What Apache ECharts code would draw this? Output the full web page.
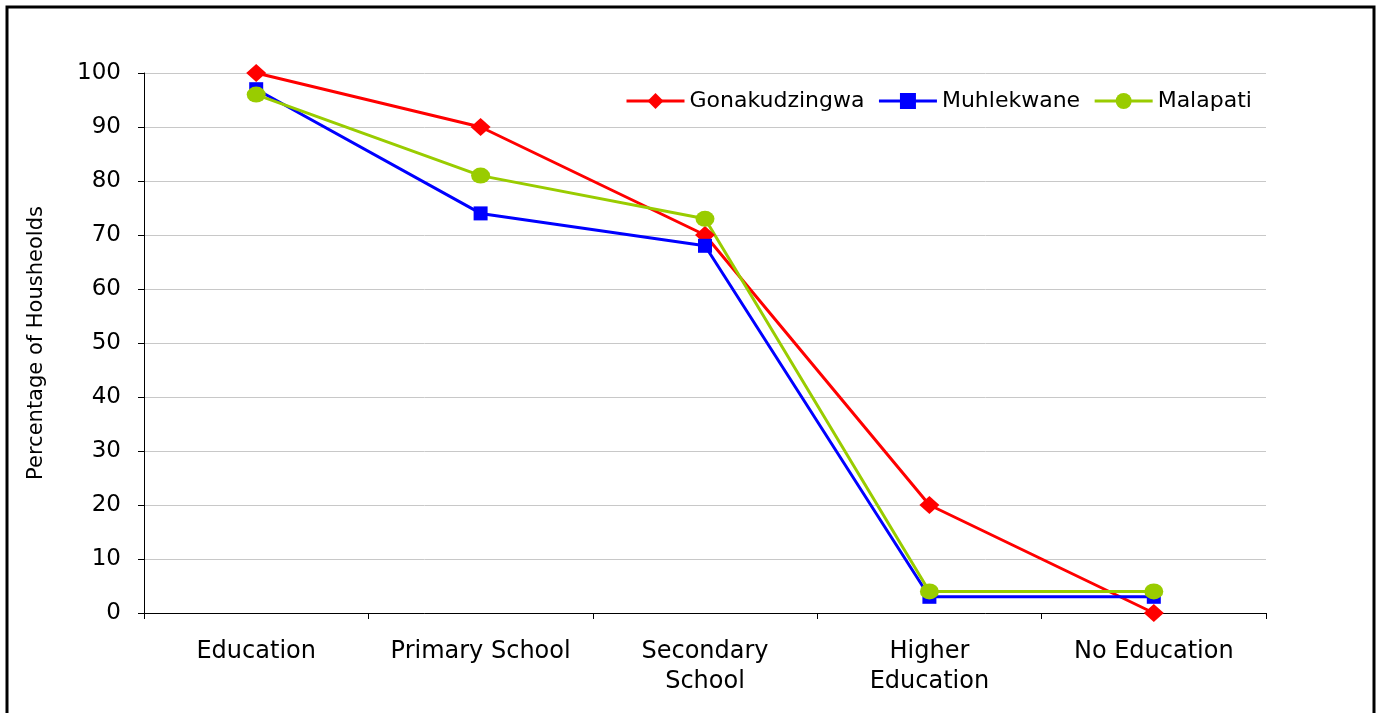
<!DOCTYPE html>
<html>
<head>
<meta charset="utf-8">
<script src="https://cdn.jsdelivr.net/npm/echarts@6/dist/echarts.min.js"></script>
<style>
html,body{margin:0;padding:0;background:#fff;}
#chart{width:1377px;height:713px;}
</style>
</head>
<body>
<div id="chart"></div>
<script>
const categories = ['Education', 'Primary School', 'Secondary\nSchool', 'Higher\nEducation', 'No Education'];
const gonakudzingwa = [100, 90, 70, 20, 0];
const muhlekwane = [97, 74, 68, 3, 3];
const malapati = [96, 81, 73, 4, 4];
const yTicks = { min: 0, max: 100, interval: 10 };

const chart = echarts.init(document.getElementById('chart'));
const font = 'DejaVu Sans, sans-serif';
function lineSeries(name, data, color, symbol, size) {
  return {
    name: name, type: 'line', data: data,
    symbol: symbol, symbolSize: size,
    lineStyle: { color: color, width: 3 },
    itemStyle: { color: color },
    animation: false
  };
}
chart.setOption({
  animation: false,
  textStyle: { fontFamily: font },
  graphic: [{
    type: 'rect', shape: { x: 7, y: 7, width: 1367, height: 730 },
    style: { fill: 'none', stroke: '#000', lineWidth: 3 }, silent: true
  }],
  grid: { left: 144, right: 111, top: 73, bottom: 100 },
  legend: {
    left: 620, top: 85,
    itemWidth: 58, itemHeight: 20, itemGap: 13,
    lineStyle: { width: 3 },
    textStyle: { fontSize: 22, color: '#000', fontFamily: font },
    data: ['Gonakudzingwa', 'Muhlekwane', 'Malapati']
  },
  xAxis: {
    type: 'category', data: categories, boundaryGap: true,
    axisLine: { lineStyle: { color: '#000', width: 1 } },
    axisTick: { show: true, length: 6, lineStyle: { color: '#000' } },
    axisLabel: { color: '#000', fontSize: 24, margin: 24, lineHeight: 30, fontFamily: font, interval: 0 }
  },
  yAxis: {
    type: 'value', min: yTicks.min, max: yTicks.max, interval: yTicks.interval,
    name: 'Percentage of Housheolds', nameLocation: 'middle', nameGap: 97,
    nameTextStyle: { color: '#000', fontSize: 21, fontFamily: font },
    axisLine: { show: true, lineStyle: { color: '#000', width: 1 } },
    axisTick: { show: true, length: 6, lineStyle: { color: '#000' } },
    axisLabel: { color: '#000', fontSize: 23, margin: 23, fontFamily: font },
    splitLine: { lineStyle: { color: '#c8c8c8', width: 1 } }
  },
  series: [
    lineSeries('Gonakudzingwa', gonakudzingwa, '#FF0000', 'diamond', [20, 18]),
    lineSeries('Muhlekwane', muhlekwane, '#0000FF', 'rect', [14, 14]),
    lineSeries('Malapati', malapati, '#99CC00', 'circle', [19, 16])
  ]
});
</script>
</body>
</html>
